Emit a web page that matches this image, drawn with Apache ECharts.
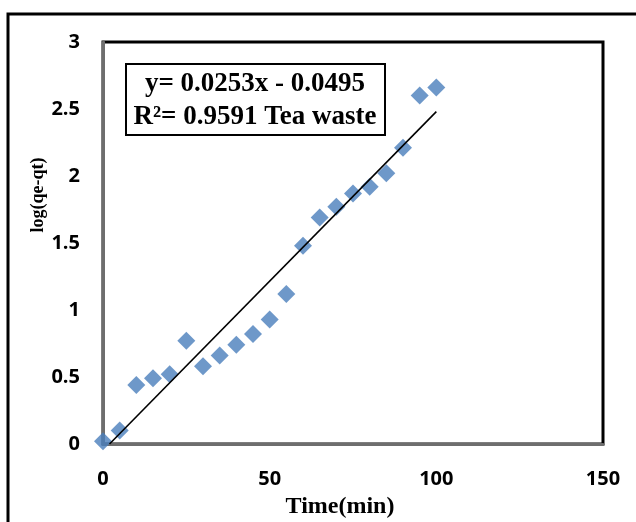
<!DOCTYPE html>
<html>
<head>
<meta charset="utf-8">
<script src="https://cdn.jsdelivr.net/npm/echarts@6/dist/echarts.min.js"></script>
<style>
    html, body { margin: 0; padding: 0; background: #fff; }
    #chart { width: 636px; height: 522px; }
</style>
</head>
<body>
<div id="chart"></div>
<script>
// measured points, log(qe-qt) vs time
const timeData = [0, 5, 10, 15, 20, 25, 30, 35, 40, 45, 50, 55, 60, 65, 70, 75, 80, 85, 90, 95, 100];
const logData = [0.02, 0.10, 0.44, 0.49, 0.52, 0.77, 0.58, 0.66, 0.74, 0.82, 0.93, 1.12, 1.48, 1.69, 1.77, 1.87, 1.92, 2.02, 2.21, 2.60, 2.66];

// linear trend line
const slope = 0.0253;
const intercept = -0.0495;
const trendRange = [1.96, 100];

const xTicks = { min: 0, max: 150, interval: 50 };
const yTicks = { min: 0, max: 3, interval: 0.5 };

const eqLine1 = 'y= 0.0253x - 0.0495';
const eqLine2 = 'R²= 0.9591 Tea waste';
const xTitle = 'Time(min)';
const yTitle = 'log(qe-qt)';

const chart = echarts.init(document.getElementById('chart'));

const points = timeData.map((t, i) => [t, logData[i]]);
const trend = trendRange.map(x => [x, slope * x + intercept]);

const tickFont = {
    color: '#000',
    fontFamily: 'Open Sans',
    fontWeight: 'bold',
    fontSize: 20
};

const option = {
    backgroundColor: '#fff',
    animation: false,
    grid: {
        left: 103,
        right: 33,
        top: 42,
        bottom: 78,
        show: true,
        borderColor: '#000',
        borderWidth: 3
    },
    xAxis: {
        type: 'value',
        min: xTicks.min,
        max: xTicks.max,
        interval: xTicks.interval,
        axisLine: { show: true, lineStyle: { color: '#6e6e6e', width: 3 } },
        axisTick: { show: false },
        splitLine: { show: false },
        axisLabel: Object.assign({ margin: 25 }, tickFont)
    },
    yAxis: {
        type: 'value',
        min: yTicks.min,
        max: yTicks.max,
        interval: yTicks.interval,
        axisLine: { show: true, lineStyle: { color: '#6e6e6e', width: 3 } },
        axisTick: { show: false },
        splitLine: { show: false },
        axisLabel: Object.assign({ margin: 23 }, tickFont)
    },
    series: [
        {
            type: 'scatter',
            data: points,
            symbol: 'diamond',
            symbolSize: 18,
            itemStyle: { color: '#4A7EBB' },
            z: 3
        },
        {
            type: 'line',
            data: trend,
            showSymbol: false,
            lineStyle: { color: '#000', width: 1.6 },
            z: 4
        }
    ],
    graphic: [
        // outer chart frame
        {
            type: 'rect',
            shape: { x: 8, y: 14, width: 700, height: 600 },
            style: { fill: 'none', stroke: '#000', lineWidth: 3 },
            silent: true
        },
        // equation box
        {
            type: 'rect',
            shape: { x: 126, y: 64, width: 259, height: 71 },
            style: { fill: '#fff', stroke: '#000', lineWidth: 2 },
            z: 10
        },
        {
            type: 'text',
            x: 255,
            y: 84,
            z: 11,
            style: {
                text: eqLine1,
                fill: '#000',
                font: 'bold 27px "Liberation Serif"',
                align: 'center',
                verticalAlign: 'middle'
            }
        },
        {
            type: 'text',
            x: 255,
            y: 117,
            z: 11,
            style: {
                text: eqLine2,
                fill: '#000',
                font: 'bold 27px "Liberation Serif"',
                align: 'center',
                verticalAlign: 'middle'
            }
        },
        // axis titles
        {
            type: 'text',
            x: 340,
            y: 507,
            style: {
                text: xTitle,
                fill: '#000',
                font: 'bold 24px "Liberation Serif"',
                align: 'center',
                verticalAlign: 'middle'
            }
        },
        {
            type: 'text',
            x: 38,
            y: 195,
            rotation: Math.PI / 2,
            style: {
                text: yTitle,
                fill: '#000',
                font: 'bold 18px "Liberation Serif"',
                align: 'center',
                verticalAlign: 'middle'
            }
        }
    ]
};

chart.setOption(option);
</script>
</body>
</html>
